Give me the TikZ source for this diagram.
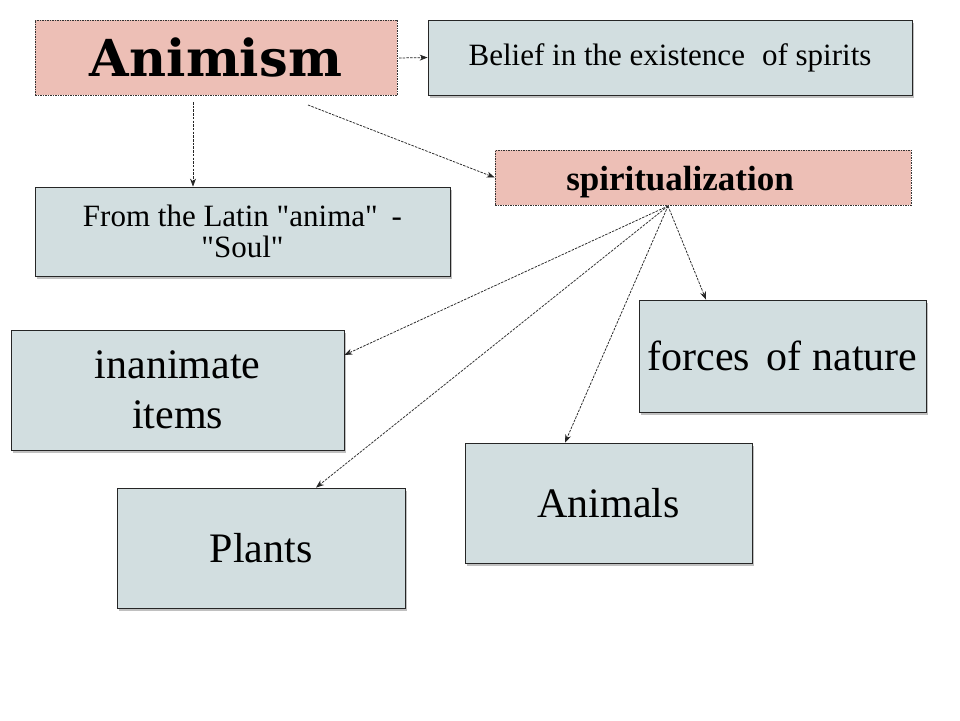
\documentclass[tikz,border=0pt]{standalone}
\usepackage{fontspec}
\setmainfont{Liberation Serif}[Ligatures=TeXOff]
\newfontfamily\animfont{DejaVu Serif}
\usetikzlibrary{shadows,arrows.meta}
\definecolor{boxblue}{HTML}{D2DEE0}
\definecolor{boxpink}{HTML}{EDBFB6}
\begin{document}
\begin{tikzpicture}[x=1pt,y=-1pt,
  solidbox/.style={draw=black!85, line width=0.8pt, fill=boxblue, inner sep=0pt, align=center,
    drop shadow={shadow xshift=2pt, shadow yshift=-2.5pt, opacity=0.35, fill=black!70}},
  pinkbox/.style={draw=black!80, dash pattern=on 1.5pt off 1pt, line width=0.7pt, fill=boxpink, inner sep=0pt},
  conn/.style={draw=black!85, line width=0.75pt, dash pattern=on 2.5pt off 1.2pt, -{Stealth[length=8pt,width=6pt]}},
  bigtext/.style={font=\fontsize{42}{50}\selectfont},
  smalltext/.style={font=\fontsize{31}{31}\selectfont}]
\useasboundingbox (0,0) rectangle (960,720);
\fill[white] (0,0) rectangle (960,720);

% top row
\node[pinkbox, minimum width=362pt, minimum height=75pt,
      font=\animfont\fontsize{51}{51}\bfseries\selectfont] (anim) at (216,57.5) {Animism};
\node[solidbox, minimum width=484pt, minimum height=75pt, smalltext] (belief) at (670,57.5)
      {Belief in the existence\hspace{0.3em} of spirits};

% spiritualization
\node[pinkbox, minimum width=416pt, minimum height=55pt] (spirit) at (703,177.5) {};
\node[font=\fontsize{35}{35}\bfseries\selectfont, inner sep=0pt] (spirittext) at (680,182) {spiritualization};

% latin
\node[solidbox, minimum width=415pt, minimum height=89pt, font=\fontsize{31}{31}\selectfont] (latin) at (242.5,231.5)
      {From the Latin "anima" \hspace{0.2em}-\\ "Soul"};

% lower boxes
\node[solidbox, minimum width=333pt, minimum height=120pt, bigtext] (inan) at (177.5,390) {inanimate\\items};
\node[solidbox, minimum width=287pt, minimum height=112pt, bigtext] (forces) at (782.5,356) {forces\hspace{0.15em} of nature};
\node[solidbox, minimum width=287pt, minimum height=120pt, bigtext] (animals) at (608.5,503) {Animals};
\node[solidbox, minimum width=288pt, minimum height=120pt, bigtext] (plants) at (261,548) {Plants};

% connector anchors
\coordinate (hub) at (668,206);
\coordinate (a1) at (399,58);
\coordinate (a2) at (193,102);
\coordinate (a3) at (308,105);

\draw[conn] (a1) -- (belief.west);
\draw[conn] (a2) -- (latin.north -| a2);
\draw[conn] (a3) -- (spirit.west);
\draw[conn] (hub) -- (inan.east |- 0,355);
\draw[conn] (hub) -- (plants.north -| 316,0);
\draw[conn] (hub) -- (animals.north -| 565,0);
\draw[conn] (hub) -- (forces.north -| 706,0);
\end{tikzpicture}
\end{document}
